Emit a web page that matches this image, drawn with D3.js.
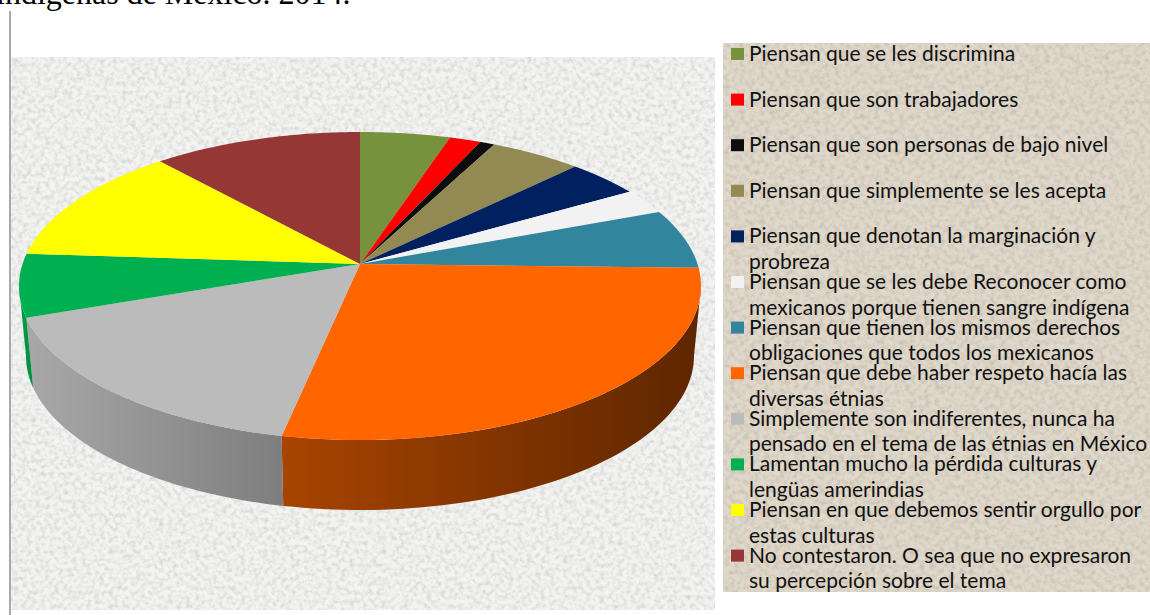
<!DOCTYPE html>
<html lang="es"><head><meta charset="utf-8">
<script src="https://cdnjs.cloudflare.com/ajax/libs/d3/7.8.5/d3.min.js"></script>
<style>html,body{margin:0;padding:0;background:#fff;overflow:hidden}svg{display:block}</style>
</head><body>
<svg id="c" width="1150" height="615"></svg>
<script>
const titleText = "indígenas de México. 2014.";
const categories = [
 ["Piensan que se les discrimina"],
 ["Piensan que son trabajadores"],
 ["Piensan que son personas de bajo nivel"],
 ["Piensan que simplemente se les acepta"],
 ["Piensan que denotan la marginación y","probreza"],
 ["Piensan que se les debe Reconocer como","mexicanos porque tienen sangre indígena"],
 ["Piensan que tienen los mismos derechos","obligaciones que todos los mexicanos"],
 ["Piensan que debe haber respeto hacía las","diversas étnias"],
 ["Simplemente son indiferentes, nunca ha","pensado en el tema de las étnias en México"],
 ["Lamentan mucho la pérdida culturas y","lengüas amerindias"],
 ["Piensan en que debemos sentir orgullo por","estas culturas"],
 ["No contestaron. O sea que no expresaron","su percepción sobre el tema"]
];
const values = [4.9,1.7,0.8,5.0,4.0,2.7,6.3,27.8,16.3,6.6,12.5,11.4];
const colors = ["#76923c","#ff0000","#0d0d0d","#938953","#002060","#f2f2f2","#31859c","#ff6600","#bbbbbb","#00b050","#ffff00","#953735"];
const wallLight = ["#76923c","#ff0000","#0d0d0d","#938953","#002060","#f2f2f2","#2a7085","#a84400","#a8a8a8","#00a048","#ffff00","#953735"];
const wallDark  = ["#76923c","#ff0000","#0d0d0d","#938953","#002060","#f2f2f2","#1f5666","#5e2600","#7e7e7e","#008c3e","#ffff00","#953735"];

const svg = d3.select("#c");
const defs = svg.append("defs");
function noise(id, freq, slope, intercept, tint){
  const f = defs.append("filter").attr("id",id).attr("x",0).attr("y",0).attr("width","100%").attr("height","100%")
    .attr("color-interpolation-filters","sRGB");
  f.append("feTurbulence").attr("type","fractalNoise").attr("baseFrequency",freq).attr("numOctaves",3).attr("seed",7).attr("result","n");
  f.append("feColorMatrix").attr("in","n").attr("type","matrix")
   .attr("values",`0 0 0 0 ${tint[0]} 0 0 0 0 ${tint[1]} 0 0 0 0 ${tint[2]} ${slope} 0 0 0 ${intercept}`).attr("result","d");
  f.append("feComposite").attr("in","d").attr("in2","SourceGraphic").attr("operator","over");
}
noise("paper",0.22,0.9,-0.36,[0.68,0.68,0.68]);
noise("sand",0.2,0.7,-0.28,[0.62,0.56,0.46]);

// backgrounds
svg.append("rect").attr("x",11).attr("y",57).attr("width",704).attr("height",553).attr("fill","#f3f3f1").attr("filter","url(#paper)");
svg.append("rect").attr("x",723).attr("y",43).attr("width",427).attr("height",549).attr("fill","#dfd8cb").attr("filter","url(#sand)");
svg.append("line").attr("x1",10).attr("x2",10).attr("y1",11).attr("y2",615).attr("stroke","#858585").attr("stroke-width",1.4);

// title fragment
svg.append("text").attr("x",-4).attr("y",4).attr("font-family","Liberation Serif").attr("font-size",32).attr("fill","#000").text(titleText);

// pie in perspective: circle mapped projectively onto an ellipse with an off-centre apex
const pie = d3.pie().sort(null).value(d=>d)(values);
const ell = {cx:360, cy:286, rx:341, rxBase:334, ry:154, apexY:264, depth:70};
const e = (ell.cy-ell.apexY)/ell.ry, k = Math.sqrt((1-e)/(1+e));
const phi = t => {
  const turns = Math.floor((t+Math.PI)/(2*Math.PI));
  const r = t-turns*2*Math.PI;
  return 2*Math.atan(k*Math.tan(r/2))+turns*2*Math.PI;
};
const P = (p,rx,dy) => [ell.cx+rx*Math.sin(p), ell.cy-ell.ry*Math.cos(p)+dy];
const pt = t => P(phi(t),ell.rx,0);
const line = d3.line();
const samples = (a,b) => d3.range(0,61).map(i=>a+(b-a)*i/60);

// side walls (front half only)
const walls = svg.append("g");
pie.forEach((s,i)=>{
  const pa = Math.max(phi(s.startAngle), Math.PI/2), pb = Math.min(phi(s.endAngle), 3*Math.PI/2);
  if(pb<=pa) return;
  const ps=samples(pa,pb);
  const poly=ps.map(p=>P(p,ell.rx,0)).concat(ps.slice().reverse().map(p=>P(p,ell.rxBase,ell.depth)));
  const xs=d3.extent(poly,d=>d[0]);
  const id="w"+i;
  const g=defs.append("linearGradient").attr("id",id).attr("gradientUnits","userSpaceOnUse")
    .attr("x1",xs[0]).attr("x2",xs[1]).attr("y1",0).attr("y2",0);
  g.append("stop").attr("offset",0).attr("stop-color",wallLight[i]);
  g.append("stop").attr("offset",1).attr("stop-color",wallDark[i]);
  walls.append("path").attr("d",line(poly)+"Z").attr("fill",`url(#${id})`);
});

// top slices
const apex=[ell.cx,ell.apexY];
svg.append("g").selectAll("path").data(pie).join("path")
  .attr("d",s=>line([apex].concat(samples(s.startAngle,s.endAngle).map(t=>pt(t))))+"Z")
  .attr("fill",(s,i)=>colors[i]);

// legend
const yItem=d3.scaleLinear().domain([0,11]).range([61,562.6]);
const lg=svg.append("g").attr("font-family","Lato").attr("font-size",21).attr("fill","#111");
categories.forEach((lines,i)=>{
  const y=yItem(i);
  lg.append("rect").attr("x",731).attr("y",y-13).attr("width",13).attr("height",12).attr("fill",colors[i]);
  lines.forEach((t,j)=>lg.append("text").attr("x",749).attr("y",y+j*25.5).text(t));
});
</script>
</body></html>
